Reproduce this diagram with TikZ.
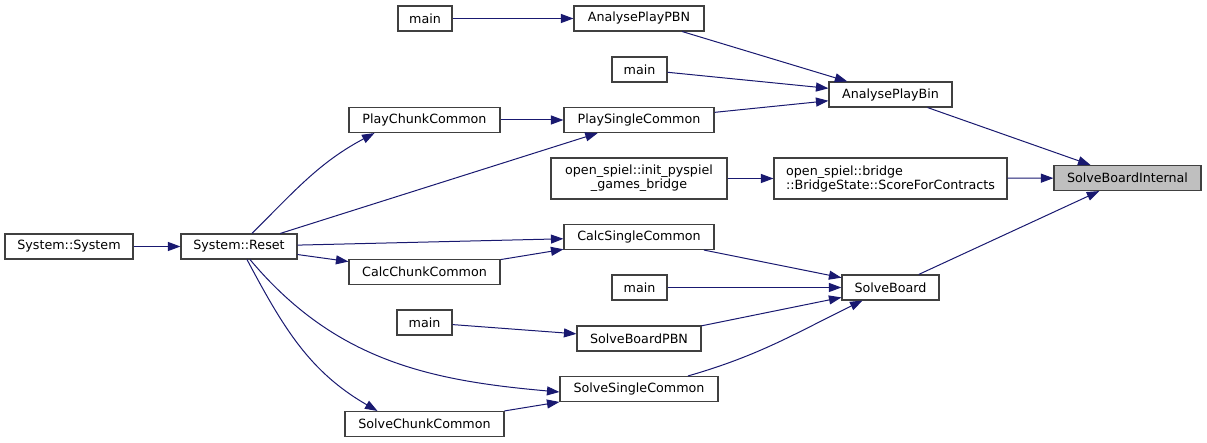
\documentclass[tikz,border=0pt]{standalone}
\usepackage{fontspec}
\setmainfont{DejaVu Sans}
\usetikzlibrary{arrows.meta}
\definecolor{midblue}{RGB}{25,25,112}

\begin{document}
\begin{tikzpicture}[x=1pt,y=1pt,
fn/.style={draw=black!75,line width=1.1pt,fill=white,inner sep=0pt,minimum height=25pt,font=\fontsize{12.7}{14}\selectfont},
call/.style={draw=midblue,line width=1pt,-{Triangle[length=12.5pt,width=9pt]}}]
\useasboundingbox (0,0) rectangle (1207,-443);
\node[fn,minimum width=147pt,fill=black!25] (sbi) at (1127.5,-178) {SolveBoardInternal};
\node[fn,minimum width=123pt] (apbin) at (890.5,-94.5) {AnalysePlayBin};
\node[fn,minimum width=233pt,minimum height=41pt,align=left] (score) at (890.5,-178.5) {open\_spiel::bridge\\::BridgeState::ScoreForContracts};
\node[fn,minimum width=97pt] (solveboard) at (890.5,-287.5) {SolveBoard};
\node[fn,minimum width=130pt] (appbn) at (639,-18.5) {AnalysePlayPBN};
\node[fn,minimum width=55pt] (mainb) at (639.5,-69.5) {main};
\node[fn,minimum width=150pt] (playsingle) at (639,-120) {PlaySingleCommon};
\node[fn,minimum width=176pt,minimum height=41pt,align=center] (pyspiel) at (639,-178.5) {open\_spiel::init\_pyspiel\\\_games\_bridge};
\node[fn,minimum width=150pt] (calcsingle) at (639,-237) {CalcSingleCommon};
\node[fn,minimum width=55pt] (maind) at (639.5,-287.5) {main};
\node[fn,minimum width=124pt] (solvepbn) at (639,-338.5) {SolveBoardPBN};
\node[fn,minimum width=158pt] (solvesingle) at (639,-389) {SolveSingleCommon};
\node[fn,minimum width=54pt] (maina) at (425,-18.5) {main};
\node[fn,minimum width=151pt] (playchunk) at (424.5,-120) {PlayChunkCommon};
\node[fn,minimum width=151pt] (calcchunk) at (424.5,-272) {CalcChunkCommon};
\node[fn,minimum width=55pt] (mainc) at (424.5,-322.5) {main};
\node[fn,minimum width=159pt] (solvechunk) at (424.5,-424) {SolveChunkCommon};
\node[fn,minimum width=116pt] (reset) at (239,-246.5) {System::Reset};
\node[fn,minimum width=128pt] (sys) at (69,-246.5) {System::System};
\draw[call] (maina) -- (appbn);
\draw[call] (appbn) -- (apbin);
\draw[call] (mainb) -- (apbin);
\draw[call] (playsingle) -- (apbin);
\draw[call] (apbin) -- (sbi);
\draw[call] (score) -- (sbi);
\draw[call] (solveboard) -- (sbi);
\draw[call] (pyspiel) -- (score);
\draw[call] (playchunk) -- (playsingle);
\draw[call] (calcsingle) -- (solveboard);
\draw[call] (maind) -- (solveboard);
\draw[call] (solvepbn) -- (solveboard);
\draw[call] ([xshift=49pt]solvesingle.north) to[out=16,in=206] ([xshift=-28pt]solveboard.south);
\draw[call] (mainc) -- (solvepbn);
\draw[call] (calcchunk) -- (calcsingle);
\draw[call] (solvechunk) -- (solvesingle);
\draw[call] (sys) -- (reset);
\draw[call] ([xshift=13pt]reset.north) to[out=45,in=208] ([xshift=-50pt]playchunk.south);
\draw[call] (reset) -- (playsingle);
\draw[call] (reset) -- (calcsingle);
\draw[call] (reset) -- (calcchunk);
\draw[call] ([xshift=11pt]reset.south) to[out=-50,in=175] ([yshift=-3pt]solvesingle.west);
\draw[call] ([xshift=8pt]reset.south) to[out=-62,in=150] ([xshift=-47pt]solvechunk.north);
\end{tikzpicture}
\end{document}
